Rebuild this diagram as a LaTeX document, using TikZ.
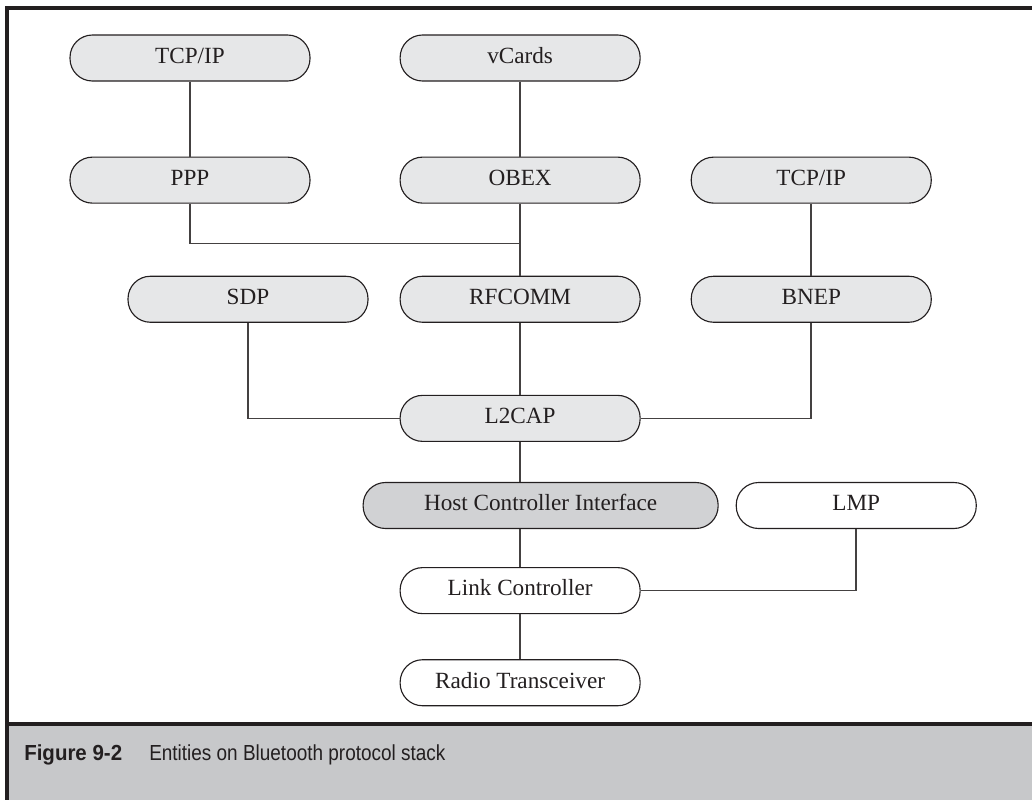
\documentclass[tikz,border=0pt]{standalone}
\usepackage{fontspec}
\setmainfont{Liberation Serif}
\newfontfamily\capfont[FakeStretch=0.87]{Liberation Sans}
\newfontfamily\capbold[FakeStretch=0.94]{Liberation Sans}
\usepackage{tikz}
\usetikzlibrary{positioning, calc}
\definecolor{boxgray} {RGB}{230, 231, 232}
\definecolor{hcigray} {RGB}{209, 210, 212}
\definecolor{bandgray}{RGB}{199, 200, 202}
\definecolor{inkgray} {RGB}{35, 31, 32}
\tikzset{
  % Protocol layer box
  layer/.style={
    rectangle, rounded corners=0.56cm,
    minimum width=6cm, minimum height=1.15cm, inner sep=0pt,
    fill=boxgray, draw=inkgray, line width=0.8pt,
    font=\fontsize{16.5pt}{19pt}\selectfont, text=inkgray,
    text height=11pt, text depth=3.5pt
  },
  hcilayer/.style={layer, fill=hcigray, minimum width=8.875cm},
  hwlayer/.style={layer, fill=white},
  % Connector style
  link/.style={line width=1.1pt, color=inkgray!85},
  % Figure frame
  frame/.style={line width=2.2pt, color=inkgray},
  % Caption text
  captext/.style={anchor=base west, inner sep=0pt, text=inkgray},
}

\begin{document}
\begin{tikzpicture}[node distance=1.8cm and 1.25cm]
  \useasboundingbox (0,0) rectangle (25.8,-20);
  % frame and caption band
  \fill[bandgray] (0.175,-18.1) rectangle (25.8,-20);
  \draw[frame] (25.8,-0.2) -- (0.175,-0.2) -- (0.175,-20);
  \draw[frame] (0.175,-18.1) -- (25.8,-18.1);
  \node[captext, font=\capbold\bfseries\fontsize{15.5pt}{19pt}\selectfont] (figno) at (0.6,-19.02) {Figure 9-2};
  \node[captext, font=\capfont\fontsize{15.5pt}{19pt}\selectfont] (figtitle) at (3.725,-19.02) {Entities on Bluetooth protocol stack};
  % protocol stack
  \node[layer] (tcpa) at (4.75,-1.45) {TCP/IP};
  \node[layer, right=2.225cm of tcpa] (vcards) {vCards};
  \node[layer, below=1.875cm of tcpa] (ppp) {PPP};
  \node[layer, below=1.875cm of vcards] (obex) {OBEX};
  \node[layer, right=of obex] (tcpb) {TCP/IP};
  \node[layer, below=of obex] (rfcomm) {RFCOMM};
  \node[layer, left=0.775cm of rfcomm] (sdp) {SDP};
  \node[layer, below=of tcpb] (bnep) {BNEP};
  \node[layer, below=of rfcomm] (l2cap) {L2CAP};
  \node[hcilayer, below=1cm of l2cap, xshift=0.5125cm] (hci) {Host Controller Interface};
  \node[hwlayer, right=0.425cm of hci] (lmp) {LMP};
  \node[hwlayer, below=0.95cm of hci, xshift=-0.5125cm] (lc) {Link Controller};
  \node[hwlayer, below=1.125cm of lc] (radio) {Radio Transceiver};
  \coordinate (junc) at ($(obex.south)!0.55!(rfcomm.north)$);
  \draw[link] (tcpa) -- (ppp);
  \draw[link] (vcards) -- (obex);
  \draw[link] (ppp) |- (junc);
  \draw[link] (obex) -- (rfcomm);
  \draw[link] (tcpb) -- (bnep);
  \draw[link] (sdp) |- (l2cap);
  \draw[link] (rfcomm) -- (l2cap);
  \draw[link] (bnep) |- (l2cap);
  \draw[link] (l2cap) -- (l2cap |- hci.north);
  \draw[link] (lc) -- (lc |- hci.south);
  \draw[link] (lmp) |- (lc);
  \draw[link] (lc) -- (radio);
\end{tikzpicture}
\end{document}
